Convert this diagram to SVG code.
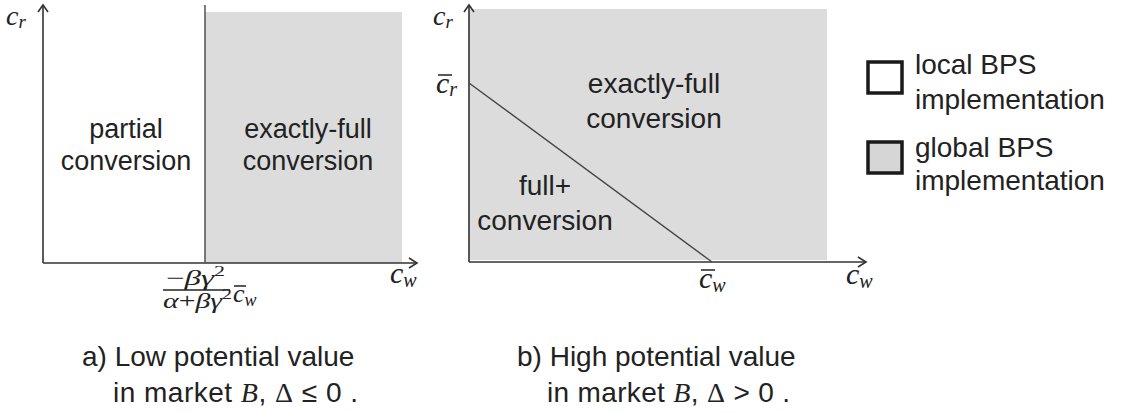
<svg xmlns="http://www.w3.org/2000/svg" width="1121" height="414" viewBox="0 0 1121 414">
<style>
.bg{fill:#ffffff}
.reg{fill:#dcdcdd}
.ax{stroke:#333;stroke-width:1.6;fill:none}
.ln{stroke:#444;stroke-width:1.4;fill:none}
.lbl{font-family:"Liberation Sans",Arial,sans-serif;fill:#222;text-anchor:middle}
.cap{font-family:"Liberation Sans",Arial,sans-serif;fill:#222;font-size:28px}
.m{font-family:"Liberation Serif","Times New Roman",serif;font-style:italic;fill:#222}
.mu{font-family:"Liberation Serif","Times New Roman",serif;fill:#222}
.bar{stroke:#222;stroke-width:1.5}
.leg{stroke:#1a1a1a;stroke-width:3.5}
</style>
<rect class="bg" x="0" y="0" width="1121" height="414"/>

<g id="panel-a">
  <g id="a-local-region">
    <text class="lbl" x="126" y="138" font-size="27">partial</text>
    <text class="lbl" x="126" y="170" font-size="27">conversion</text>
  </g>
  <g id="a-global-region">
    <rect class="reg" x="205" y="12" width="197" height="251"/>
    <text class="lbl" x="308" y="138" font-size="27">exactly-full</text>
    <text class="lbl" x="308" y="170" font-size="27">conversion</text>
  </g>
  <g id="a-axes">
    <line class="ax" x1="43" y1="263" x2="43" y2="5"/>
    <polyline class="ax" points="38,12 43,5 48,12"/>
    <line class="ax" x1="43" y1="263" x2="417" y2="263"/>
    <polyline class="ax" points="409,258 417,263 409,268"/>
    <text class="m" x="6" y="25" font-size="28">c<tspan font-size="19" dy="3">r</tspan></text>
    <text class="m" x="390" y="283" font-size="30">c<tspan font-size="20" dy="4">w</tspan></text>
  </g>
  <g id="a-threshold">
    <line class="ln" x1="205" y1="5" x2="205" y2="263"/>
    <text class="m" x="166" y="285" font-size="21" textLength="59" lengthAdjust="spacingAndGlyphs"><tspan font-style="normal">−</tspan>βγ<tspan font-size="14" dy="-9" font-style="normal">2</tspan></text>
    <line class="bar" x1="163" y1="290" x2="230" y2="290" stroke-width="1"/>
    <text class="m" x="163" y="308" font-size="21" textLength="69" lengthAdjust="spacingAndGlyphs">α<tspan font-style="normal">+</tspan>βγ<tspan font-size="14" dy="-9" font-style="normal">2</tspan></text>
    <text class="m" x="233" y="302" font-size="26">c<tspan font-size="18" dy="4">w</tspan></text>
    <line class="bar" x1="234" y1="286" x2="246" y2="286"/>
  </g>
</g>

<g id="panel-b">
  <g id="b-global-region">
    <rect class="reg" x="469" y="9" width="358" height="251"/>
    <text class="lbl" x="654" y="93" font-size="28">exactly-full</text>
    <text class="lbl" x="654" y="128" font-size="28">conversion</text>
  </g>
  <g id="b-fullplus-region">
    <text class="lbl" x="545" y="195" font-size="28">full+</text>
    <text class="lbl" x="545" y="230" font-size="28">conversion</text>
  </g>
  <g id="b-axes">
    <line class="ax" x1="469" y1="262" x2="469" y2="5"/>
    <polyline class="ax" points="464,12 469,5 474,12"/>
    <line class="ax" x1="469" y1="262" x2="866" y2="262"/>
    <polyline class="ax" points="858,257 866,262 858,267"/>
    <text class="m" x="433" y="25" font-size="28">c<tspan font-size="19" dy="3">r</tspan></text>
    <text class="m" x="846" y="284" font-size="30">c<tspan font-size="20" dy="4">w</tspan></text>
  </g>
  <g id="b-boundary">
    <line class="ln" x1="469" y1="83" x2="712" y2="262"/>
    <text class="m" x="436" y="93" font-size="30">c<tspan font-size="20" dy="3">r</tspan></text>
    <line class="bar" x1="438" y1="75" x2="452" y2="75"/>
    <text class="m" x="699" y="288" font-size="30">c<tspan font-size="20" dy="4">w</tspan></text>
    <line class="bar" x1="701" y1="270" x2="715" y2="270"/>
  </g>
</g>

<g id="legend">
  <g id="legend-local">
    <rect class="leg" x="868" y="62" width="34" height="31" fill="#ffffff"/>
    <text class="cap" x="915" y="74">local BPS</text>
    <text class="cap" x="915" y="109">implementation</text>
  </g>
  <g id="legend-global">
    <rect class="leg" x="868" y="142" width="34" height="31" fill="#d6d6d7"/>
    <text class="cap" x="915" y="157">global BPS</text>
    <text class="cap" x="915" y="190">implementation</text>
  </g>
</g>

<g id="captions">
  <text class="cap" x="82" y="366">a) Low potential value</text>
  <text class="cap" x="113" y="402" textLength="245">in market <tspan class="m">B</tspan>, <tspan class="mu">Δ</tspan> ≤ 0 .</text>
  <text class="cap" x="517" y="366">b) High potential value</text>
  <text class="cap" x="547" y="402" textLength="243">in market <tspan class="m">B</tspan>, <tspan class="mu">Δ</tspan> &gt; 0 .</text>
</g>
</svg>
